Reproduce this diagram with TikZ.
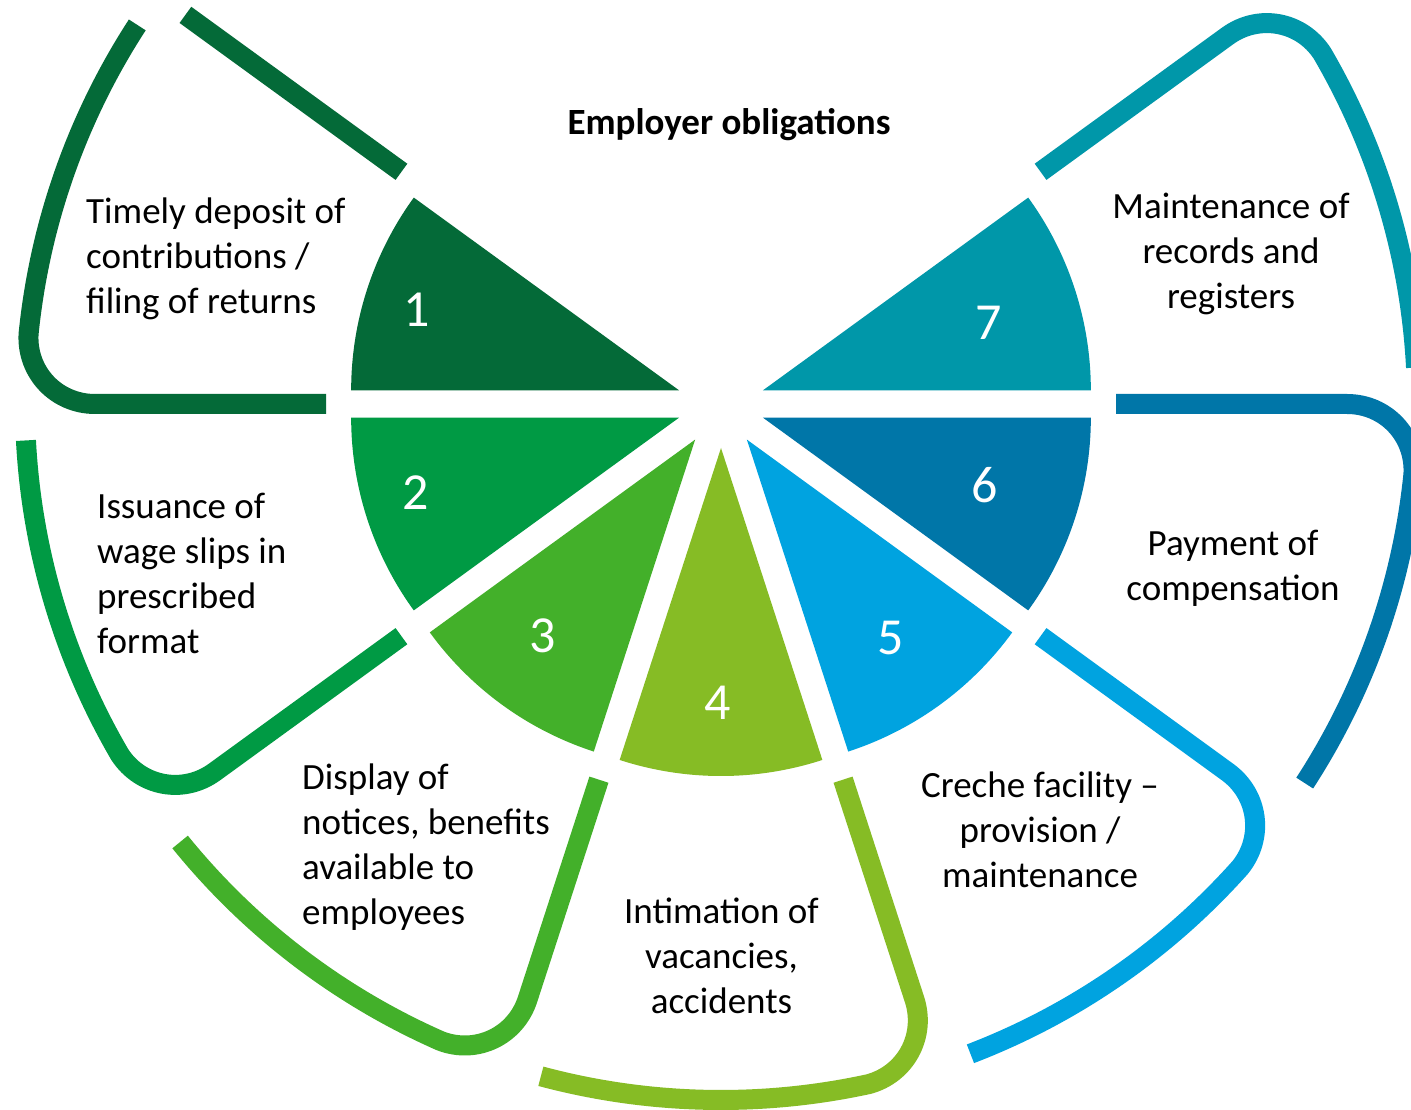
\documentclass[tikz,border=0pt]{standalone}
\usepackage{fontspec}
\setmainfont{Carlito}
\usetikzlibrary{calc}
\definecolor{cA}{HTML}{046A38}
\definecolor{cB}{HTML}{009A44}
\definecolor{cC}{HTML}{43B02A}
\definecolor{cD}{HTML}{86BC25}
\definecolor{cE}{HTML}{00A3E0}
\definecolor{cF}{HTML}{0076A8}
\definecolor{cG}{HTML}{0097A9}
\begin{document}
\begin{tikzpicture}[x=1pt,y=1pt,
  outl/.style={line width=20pt},
  txt/.style={font=\fontsize{37}{45}\selectfont, inner sep=0pt, text=black},
  num/.style={font=\fontsize{52}{60}\selectfont, text=white, inner sep=0pt}]
\useasboundingbox (0,0) rectangle (1411,1109);
\clip (0,0) rectangle (1411,1109);
\fill[white] (0,0) rectangle (1411,1109);
\begin{scope}[shift={(721,705)}]
\foreach \a/\c in {144/cA,180/cB,216/cC,252/cD,288/cE,324/cF,0/cG}{
  \fill[\c] (\a+18:44) -- ++(\a:328) arc[start angle=\a, end angle=\a+36, radius=328pt] -- cycle;
}
\foreach \t/\c in {180/cA,216/cB,252/cC,288/cD,324/cE,360/cF,36/cG}{
  \draw[outl,draw=\c] (\t:395) -- (\t:626) .. controls (\t:664.6) and ($(\t:696)!0.45!(\t-5.76:696)$) .. (\t-5.76:696) arc[start angle=\t-5.76, end angle=\t-33, radius=696pt];
}
\draw[outl,draw=cA] (144:395) -- (144:662);
\end{scope}
\node[txt, font=\fontsize{37}{45}\selectfont\bfseries, anchor=base] (title) at (729,974) {Employer obligations};
\node[txt, align=left, anchor=north west] (t1) at (86,916) {\rule{0pt}{30pt}Timely deposit of\\contributions /\\filing of returns};
\node[txt, align=left, anchor=north west] (t2) at (97,621) {\rule{0pt}{30pt}Issuance of\\wage slips in\\prescribed\\format};
\node[txt, align=left, anchor=north west] (t3) at (302,350) {\rule{0pt}{30pt}Display of\\notices, benefits\\available to\\employees};
\node[txt, align=center, anchor=north] (t4) at (721.5,216) {\rule{0pt}{30pt}Intimation of\\vacancies,\\accidents};
\node[txt, align=center, anchor=north] (t5) at (1040,342) {\rule{0pt}{30pt}Creche facility –\\provision /\\maintenance};
\node[txt, align=center, anchor=north] (t6) at (1233,584) {\rule{0pt}{30pt}Payment of\\compensation};
\node[txt, align=center, anchor=north] (t7) at (1231,921) {\rule{0pt}{30pt}Maintenance of\\records and\\registers};
\node[num] (n1) at (416.5,799.3) {1};
\node[num] (n2) at (416,616) {2};
\node[num] (n3) at (542.5,473) {3};
\node[num] (n4) at (717.5,406) {4};
\node[num] (n5) at (890.5,471) {5};
\node[num] (n6) at (985,623.5) {6};
\node[num] (n7) at (988.5,786.5) {7};
\end{tikzpicture}
\end{document}
